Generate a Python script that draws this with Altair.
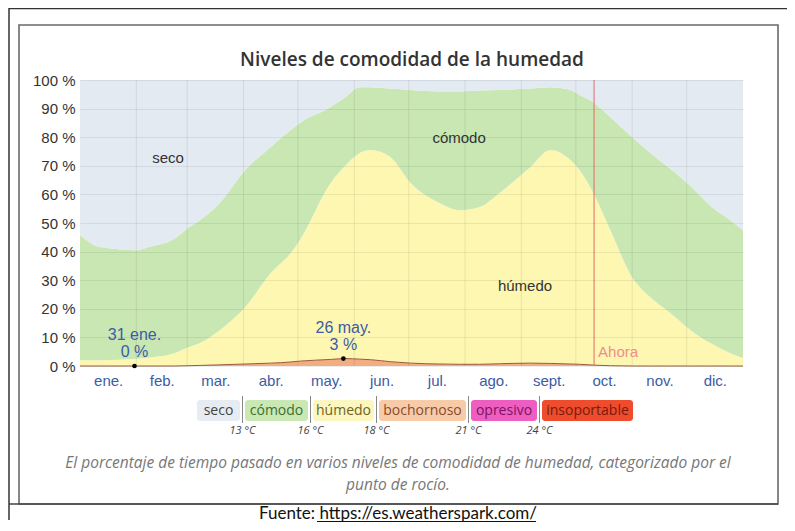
import altair as alt
import pandas as pd

# ---------------- data ----------------
days = [0, 11, 31, 38, 52, 60, 66, 77, 91, 105, 116, 121, 138, 146, 154, 160, 171,
        182, 198, 209, 220, 231, 248, 259, 270, 275, 283, 292, 304, 314, 325, 336,
        347, 358, 365]
# upper edge of the "cómodo" band (= 100 - seco)
top_comodo = [45.8, 41.6, 40.5, 41.6, 44.5, 48.5, 51, 57, 68.5, 76.6, 82.5, 85, 90.6, 94,
              97.5, 97.5, 97, 96.5, 96, 96, 96.3, 96.5, 97, 97.5, 96.5, 94.8, 92, 87,
              80, 74.5, 69, 63, 56, 51, 47.5]
# upper edge of the "húmedo" band
top_humedo = [2.0, 2.0, 2.5, 3, 4.5, 6.6, 8, 12.6, 20.6, 32.5, 39.5, 44, 64, 70, 74.5,
              75.5, 73, 64, 57, 54.5, 55.6, 60.5, 69.6, 75.5, 72, 68.5, 60, 47.5, 31,
              24, 18.5, 12.6, 8, 4.5, 2.8]
# "bochornoso" band
bochornoso = [0, 0, 0, 0, 0, 0.1, 0.2, 0.4, 0.7, 1.0, 1.4, 1.7, 2.3, 2.6, 2.4, 2.2,
              1.5, 1.0, 0.7, 0.6, 0.6, 0.8, 1.0, 0.9, 0.7, 0.6, 0.3, 0.1, 0, 0, 0, 0,
              0, 0, 0]

categories = ["bochornoso", "húmedo", "cómodo", "seco"]
area_colors = ["#f2ae82", "#fdf7b2", "#c8e7b2", "#e3eaf2"]

months = ["ene.", "feb.", "mar.", "abr.", "may.", "jun.", "jul.", "ago.", "sept.",
          "oct.", "nov.", "dic."]
month_starts = [0, 31, 59, 90, 120, 151, 181, 212, 243, 273, 304, 334]
month_lengths = [31, 28, 31, 30, 31, 30, 31, 31, 30, 31, 30, 31]

legend_labels = ["seco", "cómodo", "húmedo", "bochornoso", "opresivo", "insoportable"]
legend_fills = ["#e6ecf1", "#c9e8b4", "#fcf6c0", "#f7cba8", "#ee5ec0", "#ee4c2c"]
legend_text_colors = ["#444444", "#3f6f2c", "#6f6322", "#8a4a2c", "#7c1363", "#7a1a0c"]
thresholds = ["13 °C", "16 °C", "18 °C", "21 °C", "24 °C"]

marked_days = [30, 145]
marked_values = [0, 2.6]
marked_dates = ["31 ene.", "26 may."]
marked_pcts = ["0 %", "3 %"]

band_names = ["seco", "cómodo", "húmedo"]
band_days = [48.5, 208.7, 245]
band_pcts = [72.7, 79.7, 28]

now_day = 283

# ---------------- tables ----------------
rows = []
for d, g, h, b in zip(days, top_comodo, top_humedo, bochornoso):
    shares = [b, h - b, g - h, 100 - g]
    for k, (cat, v) in enumerate(zip(categories, shares)):
        rows.append({"day": d, "pct": v, "cat": cat, "ord": k})
areas = pd.DataFrame(rows)
boch_df = pd.DataFrame({"day": days, "pct": bochornoso})
grid_df = pd.DataFrame({"day": month_starts[1:]})
marks_df = pd.DataFrame({"day": marked_days, "pct": marked_values,
                         "date": marked_dates, "lab": marked_pcts})
bands_df = pd.DataFrame({"day": band_days, "pct": band_pcts, "name": band_names})
now_df = pd.DataFrame({"day": [now_day], "pct": [0]})
one = pd.DataFrame({"k": [0]})

mids = [s + l / 2 for s, l in zip(month_starts, month_lengths)]
month_expr = "[" + ",".join("'" + m + "'" for m in months) + "][floor(datum.value/30.42)]"

xscale = alt.Scale(domain=[0, 365], nice=False, zero=False)
yscale = alt.Scale(domain=[0, 100], nice=False)
xaxis = alt.Axis(values=mids, labelExpr=month_expr, grid=False, ticks=False,
                 domain=False, labelPadding=7, labelColor="#3c5ca6", labelFontSize=15,
                 labelFont="Liberation Sans", title=None)
yaxis = alt.Axis(values=list(range(0, 101, 10)), labelExpr="datum.value + ' %'",
                 ticks=False, domain=False, labelPadding=5, labelFontSize=15,
                 labelColor="#333333", labelFont="Liberation Sans", grid=True,
                 gridColor="#000000", gridOpacity=0.07, zindex=1, title=None)

X = alt.X("day:Q", scale=xscale, axis=xaxis)
Y = alt.Y("pct:Q", scale=yscale, axis=yaxis)

area = alt.Chart(areas).mark_area(interpolate="monotone").encode(
    x=X,
    y=alt.Y("pct:Q", stack="zero", scale=yscale, axis=yaxis),
    color=alt.Color("cat:N", scale=alt.Scale(domain=categories, range=area_colors),
                    legend=None),
    order=alt.Order("ord:Q", sort="ascending"),
)
boch_line = alt.Chart(boch_df).mark_line(interpolate="monotone", color="#9a5a3a",
                                          strokeWidth=1).encode(x=X, y=Y)
vgrid = alt.Chart(grid_df).mark_rule(color="#000000", opacity=0.08).encode(x=X)
now_rule = alt.Chart(now_df).mark_rule(color="#e26a6a", strokeWidth=1).encode(x=X)
now_text = alt.Chart(now_df).mark_text(text="Ahora", align="left", baseline="middle",
                                       dx=4, dy=-14, fontSize=15, color="#f08c8c",
                                       font="Liberation Sans").encode(x=X, y=Y)
dots = alt.Chart(marks_df).mark_point(filled=True, size=22, color="#000000",
                                      opacity=1).encode(x=X, y=Y)
lab1 = alt.Chart(marks_df).mark_text(baseline="middle", dy=-14, fontSize=16,
                                     color="#3c5ca6", font="Liberation Sans").encode(
    x=X, y=Y, text="lab:N")
lab2 = alt.Chart(marks_df).mark_text(baseline="middle", dy=-31, fontSize=16,
                                     color="#3c5ca6", font="Liberation Sans").encode(
    x=X, y=Y, text="date:N")
band_text = alt.Chart(bands_df).mark_text(baseline="middle", fontSize=15,
                                          color="#333333",
                                          font="Liberation Sans").encode(
    x=X, y=Y, text="name:N")

layers = [area, boch_line, vgrid, now_rule, now_text, dots, lab1, lab2, band_text]

# ---------------- decoration (pixel offsets from the plot origin) ----------------
def deco_text(txt, x, y, **kw):
    return alt.Chart(one).mark_text(text=txt, **kw).encode(x=alt.value(x), y=alt.value(y))

def deco_rule(x, x2, y, y2, **kw):
    return alt.Chart(one).mark_rule(**kw).encode(
        x=alt.value(x), x2=alt.value(x2), y=alt.value(y), y2=alt.value(y2))

# frames
layers.append(alt.Chart(one).mark_rect(filled=False, stroke="#6a6a6a",
                                       strokeWidth=1.6).encode(
    x=alt.value(-61), x2=alt.value(698), y=alt.value(-55), y2=alt.value(424)))
layers.append(deco_rule(-71, 707, -71.5, -71.5, color="#333333", strokeWidth=1.5))
layers.append(deco_rule(-71, -71, -72, 440, color="#333333", strokeWidth=1.5))
layers.append(deco_rule(-71, 698, 424, 424, color="#444444", strokeWidth=1.5))

# title
layers.append(deco_text("Niveles de comodidad de la humedad", 332, -20,
                        font="Open Sans", fontSize=19, fontWeight=600,
                        color="#333333", baseline="middle", align="center"))

# legend
box_edges = [(117, 160), (165, 228), (233, 294), (299, 386), (391, 457), (462, 553)]
sep_x = [162.5, 230.5, 296.5, 388.5, 459.5]
for lab, fill, tc, (x0, x1) in zip(legend_labels, legend_fills, legend_text_colors,
                                   box_edges):
    layers.append(alt.Chart(one).mark_rect(color=fill, cornerRadius=3).encode(
        x=alt.value(x0), x2=alt.value(x1), y=alt.value(320), y2=alt.value(341)))
    layers.append(deco_text(lab, (x0 + x1) / 2, 330.5, font="Open Sans", fontSize=14,
                            color=tc, align="center", baseline="middle"))
for sx, th in zip(sep_x, thresholds):
    layers.append(deco_rule(sx, sx, 316, 343, color="#888888", strokeWidth=1))
    layers.append(deco_text(th, sx, 351, font="Open Sans", fontSize=11,
                            fontStyle="italic", color="#444444", align="center",
                            baseline="middle"))

# caption
layers.append(deco_text("El porcentaje de tiempo pasado en varios niveles de comodidad "
                        "de humedad, categorizado por el", 318, 383, font="Open Sans",
                        fontSize=15.5, fontStyle="italic", color="#777777",
                        align="center", baseline="middle"))
layers.append(deco_text("punto de rocío.", 318, 405, font="Open Sans", fontSize=15.5,
                        fontStyle="italic", color="#777777", align="center",
                        baseline="middle"))
# source
layers.append(deco_text("Fuente: https://es.weatherspark.com/", 318, 434,
                        font="Lato", fontSize=17, color="#111111", align="center",
                        baseline="middle"))
layers.append(deco_rule(237, 456, 441.5, 441.5, color="#111111", strokeWidth=1))

chart = alt.layer(*layers).properties(
    width=663, height=286,
    autosize=alt.AutoSizeParams(type="none"),
    padding={"left": 72, "top": 72, "right": 44, "bottom": 157},
).configure_view(stroke=None)

chart.save("out.html", embed_options={"renderer": "svg", "actions": False})
